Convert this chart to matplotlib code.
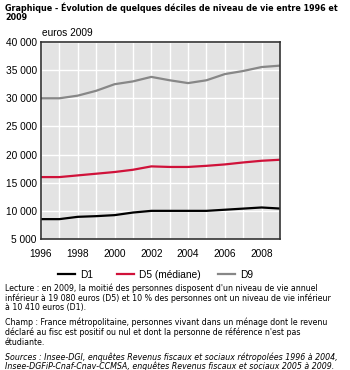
import matplotlib.pyplot as plt
from matplotlib.lines import Line2D

years = list(range(1996, 2010))
d1 = [8530, 8530, 8940, 9060, 9240, 9700, 10000, 10000, 10000, 10000, 10200, 10400, 10600, 10410]
d5 = [16000, 16000, 16300, 16600, 16900, 17300, 17900, 17800, 17800, 18000, 18250, 18600, 18900, 19080]
d9 = [30000, 30000, 30470, 31330, 32500, 33000, 33800, 33200, 32700, 33200, 34300, 34850, 35550, 35800]

series_names = ['D1', 'D5 (médiane)', 'D9']
series_colors = ['black', '#d0123a', '#878787']

y_ticks = [5000, 10000, 15000, 20000, 25000, 30000, 35000, 40000]
y_labels = ['5 000', '10 000', '15 000', '20 000', '25 000', '30 000', '35 000', '40 000']
x_ticks = [1996, 1998, 2000, 2002, 2004, 2006, 2008]

title_lines = ["Graphique - Évolution de quelques déciles de niveau de vie entre 1996 et", "2009"]
note_blocks = [
  (["Lecture : en 2009, la moitié des personnes disposent d'un niveau de vie annuel",
    "inférieur à 19 080 euros (D5) et 10 % des personnes ont un niveau de vie inférieur",
    "à 10 410 euros (D1)."], 'normal'),
  (["Champ : France métropolitaine, personnes vivant dans un ménage dont le revenu",
    "déclaré au fisc est positif ou nul et dont la personne de référence n'est pas",
    "étudiante."], 'normal'),
  (["Sources : Insee-DGI, enquêtes Revenus fiscaux et sociaux rétropolées 1996 à 2004,",
    "Insee-DGFiP-Cnaf-Cnav-CCMSA, enquêtes Revenus fiscaux et sociaux 2005 à 2009."], 'italic'),
]

narrow = ['Liberation Sans Narrow', 'Liberation Sans', 'DejaVu Sans']
W, H = 350, 370

fig = plt.figure(figsize=(3.5, 3.7), dpi=100)
ax = fig.add_axes([41 / W, 1 - 239 / H, 239 / W, 197 / H])
ax.set_facecolor('#e3e3e3')

for values, name, color in zip([d1, d5, d9], series_names, series_colors):
  ax.plot(years, values, color=color, linewidth=1.6, label=name)

ax.set_xlim(1996, 2009)
ax.set_ylim(5000, 40000)
ax.set_yticks(y_ticks)
ax.set_yticklabels(y_labels, family=narrow, fontsize=7.3)
ax.set_xticks(x_ticks)
ax.set_xticklabels([str(x) for x in x_ticks], family=narrow, fontsize=7.3)
ax.set_xticks(years, minor=True)
ax.tick_params(axis='y', which='both', length=0, pad=3)
ax.tick_params(axis='x', which='both', length=0, pad=7)
ax.grid(which='both', color='white', linewidth=1)
ax.set_axisbelow(True)
for s in ax.spines.values():
  s.set_color('#333333')
  s.set_linewidth(1.2)

fig.text(42 / W, 1 - 33 / H, 'euros 2009', family=narrow, fontsize=7.3, va='center')
for i, line in enumerate(title_lines):
  fig.text(5 / W, 1 - (8 + 9.5 * i) / H, line, fontsize=5.75, fontweight='bold', va='center')

# legend: one entry per legend so each sits where the reference puts it
for handle_x, name, color in zip([58, 117, 218], series_names, series_colors):
  fig.legend([Line2D([0], [0], color=color, linewidth=1.6)], [name],
             loc='center left', bbox_to_anchor=(handle_x / W, 1 - 275 / H),
             frameon=False, borderpad=0, borderaxespad=0, handlelength=1.65,
             handletextpad=0.5, prop={'family': narrow, 'size': 7.3})

y = 288
for lines, style in note_blocks:
  for line in lines:
    fig.text(5 / W, 1 - y / H, line, fontsize=5.7, style=style, va='center')
    y += 9.8
  y += 5.0

fig.savefig('out.png', dpi=100)
